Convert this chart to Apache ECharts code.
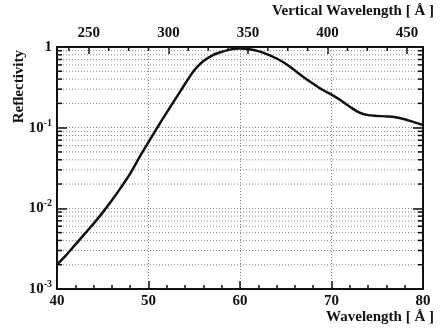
<!DOCTYPE html>
<html>
<head>
<meta charset="utf-8">
<script src="https://cdn.jsdelivr.net/npm/echarts@6/dist/echarts.min.js"></script>
<style>
  html, body { margin: 0; padding: 0; background: #fff; }
  #chart { width: 440px; height: 333px; }
</style>
</head>
<body>
<div id="chart"></div>
<script>
// Multilayer mirror reflectivity versus wavelength
const wavelength = [40, 41, 42, 43, 44, 45, 46, 47, 48, 49,
                    50, 51, 52, 53, 54, 55, 56, 57, 58, 59,
                    60, 61, 62, 63, 64, 65, 66, 67, 68, 69,
                    70, 71, 72, 73, 74, 75, 76, 77, 78, 79, 80];
const reflectivity = [0.0020, 0.00263, 0.00355, 0.00479, 0.00646, 0.00891, 0.0126, 0.0182, 0.0269, 0.0427,
                      0.066, 0.102, 0.155, 0.232, 0.35, 0.515, 0.67, 0.79, 0.87, 0.935,
                      0.96, 0.94, 0.89, 0.81, 0.72, 0.62, 0.51, 0.42, 0.35, 0.295,
                      0.257, 0.219, 0.182, 0.155, 0.143, 0.140, 0.138, 0.135, 0.127, 0.117, 0.108];

const wavelengthRange = [40, 80];
const verticalRange = [230, 460];
const verticalMinorTicks = [237.5, 262.5, 275, 287.5, 312.5, 325, 337.5, 362.5, 375, 387.5, 412.5, 425, 437.5];
const reflectivityRange = [0.001, 1];
const reflectivityMinor = [0.002, 0.003, 0.004, 0.005, 0.006, 0.007, 0.008, 0.009,
                           0.02, 0.03, 0.04, 0.05, 0.06, 0.07, 0.08, 0.09,
                           0.2, 0.3, 0.4, 0.5, 0.6, 0.7, 0.8, 0.9];

const FONT = 'Liberation Serif';
const INK = '#111';
const GRID_COLOR = '#888';

const chart = echarts.init(document.getElementById('chart'), null, { renderer: 'canvas' });

function powerLabel(v) {
  const e = Math.round(Math.log10(v));
  if (e === 0) return '1';
  return '10{sup|' + e + '}';
}

const option = {
  animation: false,
  backgroundColor: '#fff',
  grid: { left: 57, right: 17, top: 47, bottom: 44, containLabel: false },
  xAxis: [
    {
      type: 'value', position: 'bottom', min: wavelengthRange[0], max: wavelengthRange[1],
      splitNumber: 4,
      axisLine: { show: true, onZero: false, lineStyle: { color: INK, width: 2 } },
      axisTick: { show: true, inside: true, length: 8, lineStyle: { color: INK, width: 1.5 } },
      minorTick: { show: true, splitNumber: 5, length: 4, lineStyle: { color: INK, width: 1.5 } },
      axisLabel: { show: true, margin: 5, color: INK, fontFamily: FONT, fontWeight: 'bold', fontSize: 15 },
      splitLine: { show: true, lineStyle: { color: GRID_COLOR, type: [1, 2], width: 1 } }
    },
    {
      type: 'value', position: 'top', min: verticalRange[0], max: verticalRange[1],
      splitNumber: 5,
      axisLine: { show: true, onZero: false, lineStyle: { color: INK, width: 2 } },
      axisTick: { show: true, inside: true, length: 7, lineStyle: { color: INK, width: 1.5 } },
      minorTick: { show: false },
      axisLabel: {
        show: true, margin: 6, color: INK, fontFamily: FONT, fontWeight: 'bold', fontSize: 15,
        showMinLabel: false, showMaxLabel: false,
        formatter: v => (v % 50 === 0 ? String(v) : '')
      },
      splitLine: { show: false }
    }
  ],
  yAxis: [
    {
      type: 'log', logBase: 10, position: 'left', min: reflectivityRange[0], max: reflectivityRange[1],
      splitNumber: 3,
      axisLine: { show: true, onZero: false, lineStyle: { color: INK, width: 2 } },
      axisTick: { show: true, inside: true, length: 10, lineStyle: { color: INK, width: 1.5 } },
      axisLabel: {
        show: true, margin: 5, color: INK, fontFamily: FONT, fontWeight: 'bold', fontSize: 15,
        formatter: powerLabel,
        rich: { sup: { fontFamily: FONT, fontWeight: 'bold', fontSize: 10, color: INK, padding: [0, 0, 9, 0] } }
      },
      splitLine: { show: true, lineStyle: { color: GRID_COLOR, type: [1, 2], width: 1 } }
    },
    {
      type: 'log', logBase: 10, position: 'right', min: reflectivityRange[0], max: reflectivityRange[1],
      splitNumber: 3,
      axisLine: { show: true, onZero: false, lineStyle: { color: INK, width: 2 } },
      axisTick: { show: true, inside: true, length: 10, lineStyle: { color: INK, width: 1.5 } },
      axisLabel: { show: false },
      splitLine: { show: false }
    }
  ],
  graphic: [
    {
      type: 'text', right: 6, top: 310,
      style: { text: 'Wavelength [ Å ]', fill: INK, font: 'bold 15px "' + FONT + '"' }
    },
    {
      type: 'text', right: 6, top: 4,
      style: { text: 'Vertical Wavelength [ Å ]', fill: INK, font: 'bold 15px "' + FONT + '"' }
    },
    {
      type: 'text', left: 12, top: 50, rotation: Math.PI / 2,
      style: { text: 'Reflectivity', fill: INK, font: 'bold 15px "' + FONT + '"' }
    }
  ],
  series: [
    {
      // dotted minor grid lines and minor ticks on the log axis
      type: 'custom', xAxisIndex: 0, yAxisIndex: 0, z: 1, silent: true, clip: false,
      data: reflectivityMinor.map(v => [wavelengthRange[0], v]),
      renderItem: (params, api) => {
        const v = api.value(1);
        const a = api.coord([wavelengthRange[0], v]);
        const b = api.coord([wavelengthRange[1], v]);
        return {
          type: 'group',
          children: [
            { type: 'line', shape: { x1: a[0], y1: a[1], x2: b[0], y2: b[1] },
              style: { stroke: GRID_COLOR, lineWidth: 1, lineDash: [1, 2] } },
            { type: 'line', shape: { x1: a[0], y1: a[1], x2: a[0] + 5, y2: a[1] },
              style: { stroke: INK, lineWidth: 1.5 } },
            { type: 'line', shape: { x1: b[0] - 5, y1: b[1], x2: b[0], y2: b[1] },
              style: { stroke: INK, lineWidth: 1.5 } }
          ]
        };
      }
    },
    {
      // minor ticks on the top (vertical wavelength) axis
      type: 'custom', xAxisIndex: 1, yAxisIndex: 0, z: 1, silent: true, clip: false,
      data: verticalMinorTicks.map(v => [v, reflectivityRange[1]]),
      renderItem: (params, api) => {
        const p = api.coord([api.value(0), reflectivityRange[1]]);
        return { type: 'line', shape: { x1: p[0], y1: p[1], x2: p[0], y2: p[1] + 4 },
                 style: { stroke: INK, lineWidth: 1.5 } };
      }
    },
    {
      type: 'line', xAxisIndex: 0, yAxisIndex: 0, z: 3,
      data: wavelength.map((w, i) => [w, reflectivity[i]]),
      smooth: 0.3, showSymbol: false, symbol: 'none',
      lineStyle: { color: INK, width: 2.5 }
    }
  ]
};

chart.setOption(option);
</script>
</body>
</html>
